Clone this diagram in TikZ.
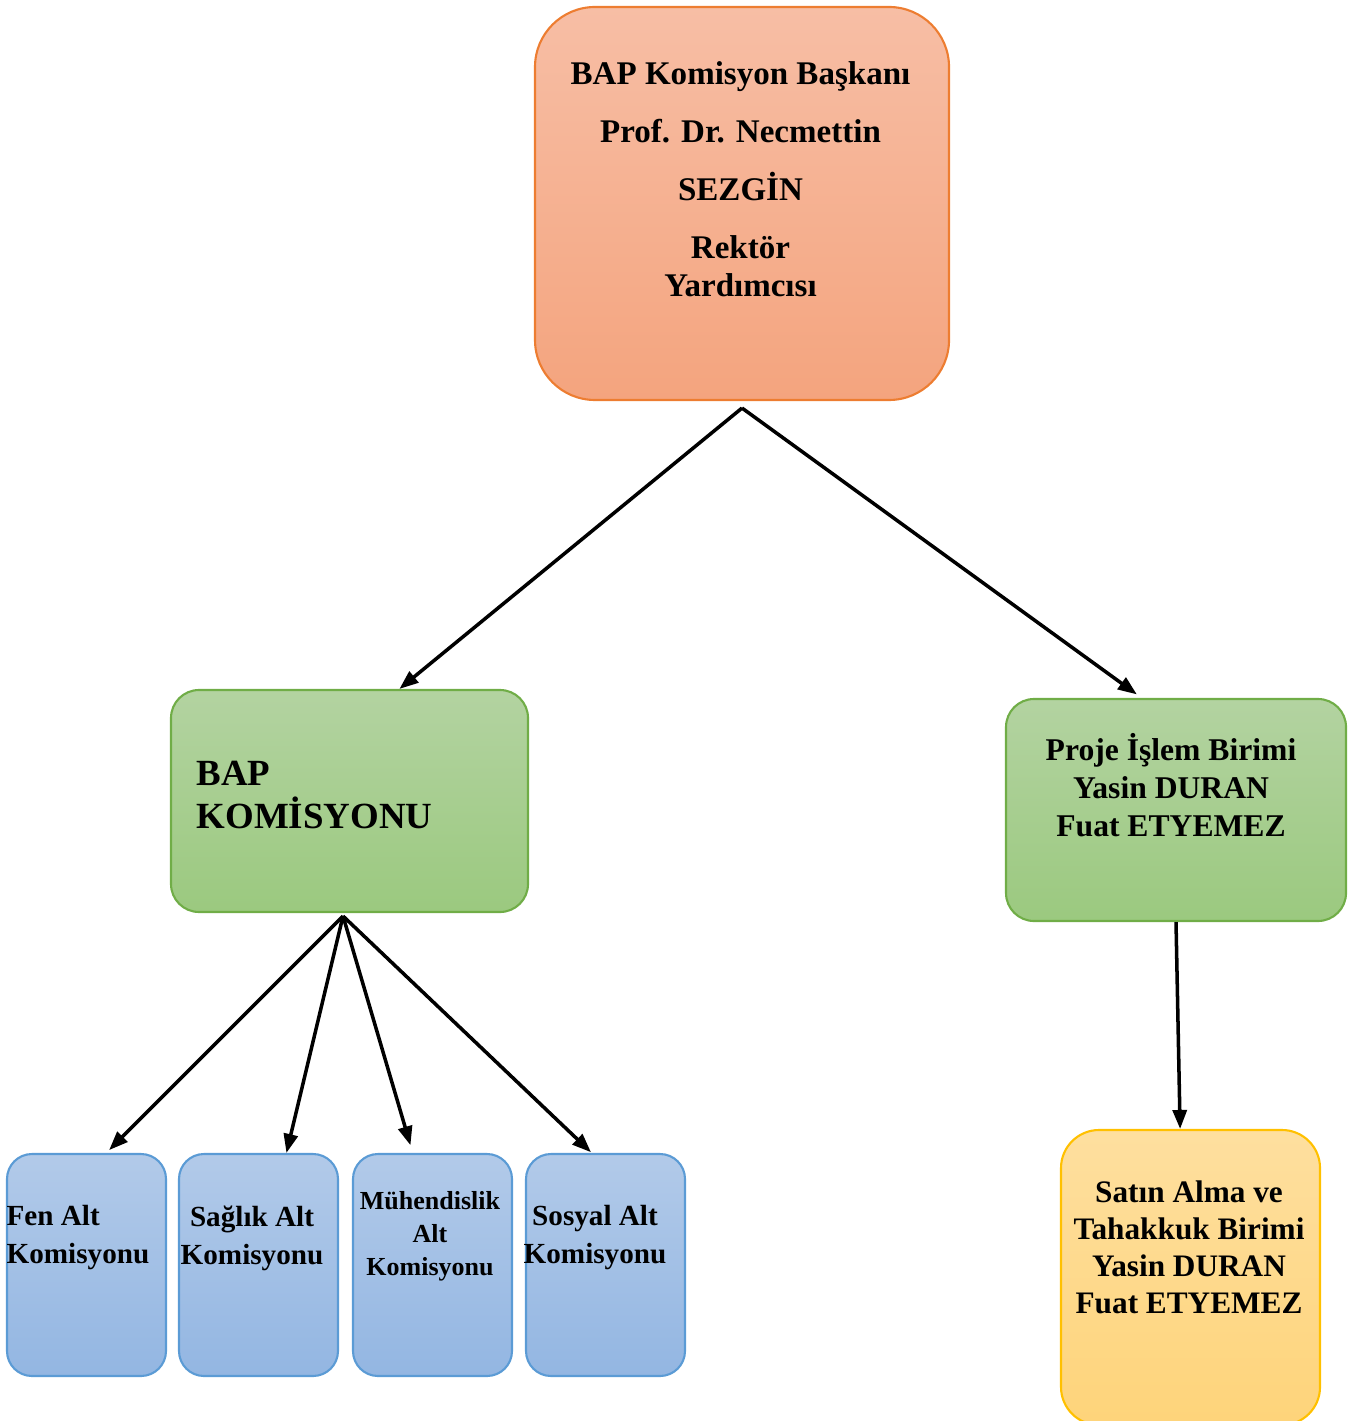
\documentclass[tikz,border=0pt]{standalone}
\usepackage{fontspec}
\setmainfont{Liberation Serif}
\usetikzlibrary{positioning,arrows.meta}

\definecolor{orangeTop}{HTML}{F7BEA5}
\definecolor{orangeBot}{HTML}{F4A47E}
\definecolor{orangeLine}{HTML}{ED7D31}
\definecolor{greenTop}{HTML}{B3D3A1}
\definecolor{greenBot}{HTML}{9BC97F}
\definecolor{greenLine}{HTML}{70AD47}
\definecolor{blueTop}{HTML}{B2CAE9}
\definecolor{blueBot}{HTML}{93B6E2}
\definecolor{blueLine}{HTML}{5B9BD5}
\definecolor{yellowTop}{HTML}{FEDF9F}
\definecolor{yellowBot}{HTML}{FED47A}
\definecolor{yellowLine}{HTML}{FFC000}

\begin{document}
\begin{tikzpicture}[
  box/.style={line width=0.6pt, inner sep=0pt},
  orangebox/.style={box, draw=orangeLine, top color=orangeTop, bottom color=orangeBot, rounded corners=0.6cm, minimum width=4.14cm, minimum height=3.93cm},
  greenbox/.style={box, draw=greenLine, top color=greenTop, bottom color=greenBot, rounded corners=0.28cm, minimum height=2.22cm},
  bluebox/.style={box, draw=blueLine, top color=blueTop, bottom color=blueBot, rounded corners=0.25cm, minimum width=1.59cm, minimum height=2.22cm},
  yellowbox/.style={box, draw=yellowLine, top color=yellowTop, bottom color=yellowBot, rounded corners=0.38cm, minimum width=2.59cm, minimum height=2.95cm},
  lbl/.style={inner sep=0pt, align=center},
  arr/.style={-{Triangle[length=1.9mm,width=1.4mm]}, line width=1pt}
]
  \useasboundingbox (0,0) rectangle (13.61,-14.21);

  % boxes
  \node[orangebox] (baskan) at (7.42,-2.035) {};
  \node[greenbox, minimum width=3.57cm] (bap) at (3.495,-8.01) {};
  \node[greenbox, minimum width=3.40cm] (proje) at (11.76,-8.10) {};
  \node[yellowbox] (satin) at (11.905,-12.775) {};
  \node[bluebox] (fen) at (0.865,-12.65) {};
  \node[bluebox] (sag) at (2.585,-12.65) {};
  \node[bluebox] (muh) at (4.325,-12.65) {};
  \node[bluebox] (sos) at (6.055,-12.65) {};

  % texts
  \node[lbl, font=\bfseries\fontsize{9.4}{10.8}\selectfont, below=0.55cm of baskan.north, xshift=-0.015cm] (baskanT)
    {BAP Komisyon Başkanı\\[5.7pt]Prof. Dr. Necmettin\\[5.7pt]SEZGİN\\[5.7pt]Rektör\\Yardımcısı};
  \node[lbl, align=left, font=\bfseries\fontsize{10.5}{12.2}\selectfont, below right=0.716cm and 0.26cm of bap.north west] (bapT)
    {BAP\\KOMİSYONU};
  \node[lbl, font=\bfseries\fontsize{9}{10.8}\selectfont, below=0.35cm of proje.north, xshift=-0.05cm] (projeT)
    {Proje İşlem Birimi\\Yasin DURAN\\Fuat ETYEMEZ};
  \node[lbl, font=\bfseries\fontsize{8.9}{10.5}\selectfont, below=0.51cm of satin.north, xshift=-0.015cm] (satinT)
    {Satın Alma ve\\Tahakkuk Birimi\\Yasin DURAN\\Fuat ETYEMEZ};
  \node[lbl, align=left, font=\bfseries\fontsize{8.3}{10.8}\selectfont, below right=0.52cm and 0cm of fen.north west] (fenT)
    {Fen Alt\\Komisyonu};
  \node[lbl, font=\bfseries\fontsize{8.3}{10.8}\selectfont, below=0.52cm of sag.north, xshift=-0.065cm] (sagT)
    {Sağlık Alt\\Komisyonu};
  \node[lbl, font=\bfseries\fontsize{7.4}{9.4}\selectfont, below=0.38cm of muh.north, xshift=-0.025cm] (muhT)
    {Mühendislik\\Alt\\Komisyonu};
  \node[lbl, font=\bfseries\fontsize{8.3}{10.8}\selectfont, below=0.52cm of sos.north, xshift=-0.105cm] (sosT)
    {Sosyal Alt\\Komisyonu};

  % connectors
  \coordinate (split) at ([yshift=-0.07cm]baskan.south);
  \draw[arr] (split) -- (bap.66);
  \draw[arr, shorten >=0.06cm] (split) -- (proje.107);

  \coordinate (bapOut) at ([xshift=-0.065cm,yshift=-0.03cm]bap.south);
  \foreach \t/\a/\s in {fen/80/0.04, sag/76/0, muh/100/0.08, sos/97/0.01}
    \draw[arr, shorten >=\s cm] (bapOut) -- (\t.\a);

  \draw[arr] (proje.south) -- (satin.94);
\end{tikzpicture}
\end{document}
